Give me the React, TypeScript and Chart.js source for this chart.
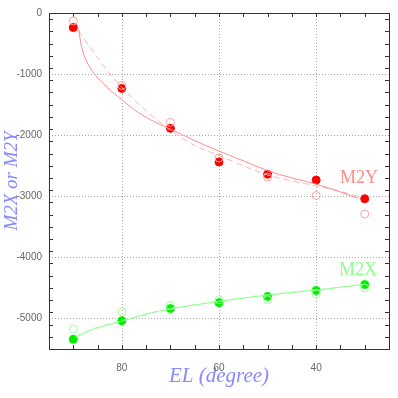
import React, { useEffect, useRef } from "react";
import { Chart, registerables } from "chart.js";

Chart.register(...registerables);

// Elevation of the measurements (degrees)
const elValues = [90, 80, 70, 60, 50, 40, 30];
// M2Y: filled (measured) and open circles
const m2yFilled = [-238, -1235, -1888, -2438, -2638, -2735, -3040];
const m2yOpen = [-130, -1186, -1790, -2373, -2686, -2988, -3290];
// M2X: filled and open circles
const m2xFilled = [-5340, -5037, -4838, -4741, -4639, -4542, -4445];
const m2xOpen = [-5173, -4892, -4790, -4693, -4693, -4595, -4503];

// Fit curves
const m2ySolidEL = [88.9, 88.5, 88, 87, 86, 85, 84, 82, 80, 78, 75, 72, 70, 65, 60, 55, 50, 45, 40, 35, 31.5];
const m2ySolidFit = [-254, -470, -640, -830, -960, -1060, -1140, -1290, -1420, -1550, -1710, -1830, -1900, -2090, -2260, -2420, -2580, -2700, -2800, -2930, -3030];
const m2yDashEL = [88.9, 86, 83, 80, 75, 70, 65, 60, 55, 50, 45, 40, 35, 31.5];
const m2yDashFit = [-290, -620, -950, -1220, -1600, -1920, -2170, -2330, -2500, -2650, -2750, -2830, -2920, -3000];
const m2xSolidEL = [89.5, 88, 86, 84, 82, 80, 75, 70, 65, 60, 55, 50, 45, 40, 35, 30.5];
const m2xSolidFit = [-5313, -5250, -5180, -5130, -5085, -5044, -4930, -4843, -4780, -4720, -4668, -4617, -4575, -4536, -4490, -4445];
const m2xDashFit = [-5290, -5235, -5170, -5120, -5078, -5036, -4925, -4840, -4775, -4715, -4662, -4612, -4570, -4530, -4485, -4440];

// Axis ticks
const xLabelTicks = [80, 60, 40];
const xMinorStep = 5;
const yLabelTicks = [0, -1000, -2000, -3000, -4000, -5000];
const yMinorStep = 200;
const xRange = [25, 95];
const yRange = [-5500, 0];

// Series labels (text, anchor in data units, colour)
const seriesLabels = [
  { text: "M2Y", el: 31.2, v: -2702, color: "#ff8c8c" },
  { text: "M2X", el: 31.4, v: -4207, color: "#8cff8c" },
];

const pts = (xs: number[], ys: number[]) => xs.map((x, i) => ({ x, y: ys[i] }));

export default function App() {
  const ref = useRef<HTMLCanvasElement | null>(null);
  useEffect(() => {
    if (!ref.current) return;
    const frame = {
      id: "frame",
      beforeDatasetsDraw(chart: any) {
        const { ctx, chartArea: a, scales } = chart;
        const xs = scales.x, ys = scales.y;
        ctx.save();
        // dotted grid
        ctx.strokeStyle = "#a8a8a8";
        ctx.lineWidth = 1;
        ctx.setLineDash([1, 2]);
        xLabelTicks.forEach((v) => {
          const px = Math.round(xs.getPixelForValue(v)) + 0.5;
          ctx.beginPath();
          ctx.moveTo(px, a.top);
          ctx.lineTo(px, a.bottom);
          ctx.stroke();
        });
        yLabelTicks.forEach((v) => {
          const py = Math.round(ys.getPixelForValue(v)) + 0.5;
          ctx.beginPath();
          ctx.moveTo(a.left, py);
          ctx.lineTo(a.right, py);
          ctx.stroke();
        });
        ctx.setLineDash([]);
        // inner tick marks
        ctx.strokeStyle = "#333";
        for (let v = xRange[0]; v <= xRange[1]; v += xMinorStep) {
          const px = Math.round(xs.getPixelForValue(v)) + 0.5;
          ctx.beginPath();
          ctx.moveTo(px, a.top);
          ctx.lineTo(px, a.top + 4);
          ctx.moveTo(px, a.bottom);
          ctx.lineTo(px, a.bottom - 4);
          ctx.stroke();
        }
        for (let v = yRange[0]; v <= yRange[1]; v += yMinorStep) {
          const py = Math.round(ys.getPixelForValue(v)) + 0.5;
          ctx.beginPath();
          ctx.moveTo(a.left, py);
          ctx.lineTo(a.left + 4, py);
          ctx.moveTo(a.right, py);
          ctx.lineTo(a.right - 4, py);
          ctx.stroke();
        }
        // box
        ctx.strokeStyle = "#333";
        ctx.strokeRect(Math.round(a.left) + 0.5, Math.round(a.top) + 0.5, Math.round(a.right - a.left), Math.round(a.bottom - a.top));
        ctx.restore();
      },
      afterDatasetsDraw(chart: any) {
        const { ctx, scales } = chart;
        ctx.save();
        ctx.font = "18px 'Liberation Serif', serif";
        ctx.textAlign = "center";
        ctx.textBaseline = "middle";
        seriesLabels.forEach((l) => {
          ctx.fillStyle = l.color;
          ctx.fillText(l.text, scales.x.getPixelForValue(l.el), scales.y.getPixelForValue(l.v));
        });
        ctx.restore();
      },
    };

    const lineDs = (data: any[], color: string, dash: number[] = []) => ({
      data,
      showLine: true,
      borderColor: color,
      borderWidth: 1,
      borderDash: dash,
      pointRadius: 0,
      cubicInterpolationMode: "monotone",
      fill: false,
    });
    const pointDs = (data: any[], color: string, filled: boolean) => ({
      data,
      showLine: false,
      pointRadius: 4,
      pointBorderWidth: 1,
      pointBackgroundColor: filled ? color : "rgba(0,0,0,0)",
      pointBorderColor: color,
      backgroundColor: filled ? color : "rgba(0,0,0,0)",
      borderColor: color,
    });

    const chart = new Chart(ref.current, {
      type: "scatter",
      data: {
        datasets: [
          lineDs(pts(m2ySolidEL, m2ySolidFit), "#ff8c8c"),
          lineDs(pts(m2yDashEL, m2yDashFit), "#ffb4b4", [6, 4]),
          lineDs(pts(m2xSolidEL, m2xSolidFit), "#8cff8c"),
          lineDs(pts(m2xSolidEL, m2xDashFit), "#b4ffb4", [6, 4]),
          pointDs(pts(elValues, m2yOpen), "#ffa0a0", false),
          pointDs(pts(elValues, m2xOpen), "#a0ffa0", false),
          pointDs(pts(elValues, m2yFilled), "#ff0000", true),
          pointDs(pts(elValues, m2xFilled), "#00f000", true),
        ] as any,
      },
      options: {
        animation: false,
        responsive: false,
        events: [],
        layout: { padding: { top: 10, right: 9, left: 0, bottom: 0 } },
        plugins: { legend: { display: false }, tooltip: { enabled: false } },
        scales: {
          x: {
            type: "linear",
            reverse: true,
            min: xRange[0],
            max: xRange[1],
            grid: { display: false },
            border: { display: false },
            afterBuildTicks: (s: any) => {
              s.ticks = xLabelTicks.map((value) => ({ value }));
            },
            afterFit: (s: any) => {
              s.height = 49;
            },
            ticks: {
              padding: 5,
              color: "#666",
              font: { size: 10, family: "'Liberation Sans', sans-serif" },
              maxRotation: 0,
            },
            title: {
              display: true,
              text: "EL (degree)",
              color: "#8888ff",
              font: { size: 21, style: "italic", family: "'Liberation Serif', serif", lineHeight: 1.2 },
              padding: { top: 0, bottom: 9 },
            },
          },
          y: {
            type: "linear",
            min: yRange[0],
            max: yRange[1],
            grid: { display: false, drawTicks: false },
            border: { display: false },
            afterBuildTicks: (s: any) => {
              s.ticks = yLabelTicks.map((value) => ({ value }));
            },
            afterFit: (s: any) => {
              s.width = 49;
            },
            ticks: {
              padding: 7,
              color: "#666",
              font: { size: 10, family: "'Liberation Sans', sans-serif" },
              callback: (v: any) => String(v),
            },
            title: {
              display: true,
              text: "M2X or M2Y",
              color: "#8888ff",
              font: { size: 19, style: "italic", family: "'Liberation Serif', serif", lineHeight: 1 },
              padding: { top: 2, bottom: 0 },
            },
          },
        },
      } as any,
      plugins: [frame],
    });
    return () => chart.destroy();
  }, []);

  return (
    <div style={{ position: "absolute", left: 0, top: 0, width: 398, height: 398, background: "#fff" }}>
      <canvas ref={ref} width={398} height={398} style={{ display: "block" }} />
    </div>
  );
}
